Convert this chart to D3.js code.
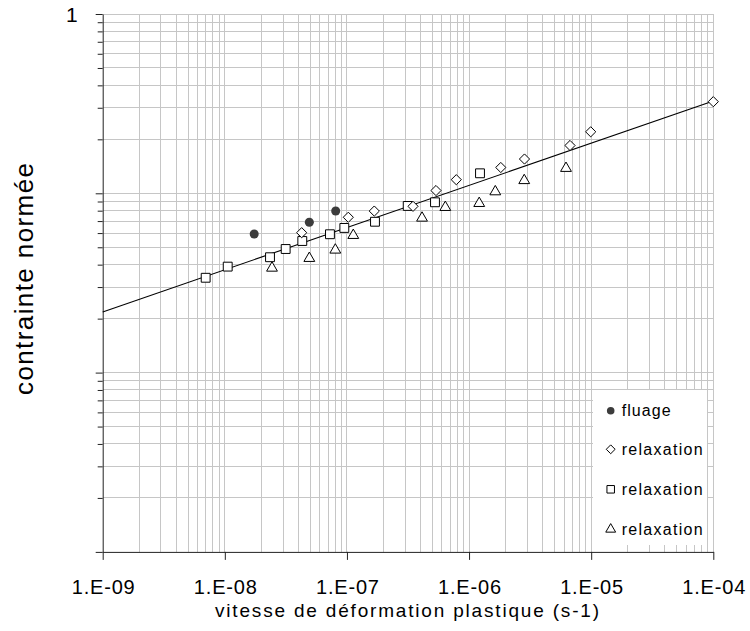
<!DOCTYPE html>
<html><head><meta charset="utf-8">
<script src="https://cdn.jsdelivr.net/npm/d3@7"></script>
<style>body{margin:0;background:#fff}svg{display:block;font-family:"Liberation Sans",Arial,sans-serif}</style>
</head><body><svg id="c" width="750" height="631"></svg>
<script>
// Data (strain rate s-1, normalized stress)
const fluageX = [1.74e-8, 4.92e-8, 8.09e-8];
const fluageY = [0.0593, 0.0689, 0.0796];
const relax1X = [4.26e-8, 1.026e-7, 1.675e-7, 3.475e-7, 5.36e-7, 7.86e-7, 1.819e-6, 2.844e-6, 6.71e-6, 9.91e-6, 1.0e-4];
const relax1Y = [0.0603, 0.0735, 0.0796, 0.0846, 0.1036, 0.1191, 0.1393, 0.1553, 0.1848, 0.2203, 0.3243];
const relax2X = [6.97e-9, 1.056e-8, 2.344e-8, 3.15e-8, 4.31e-8, 7.26e-8, 9.52e-8, 1.697e-7, 3.145e-7, 5.26e-7, 1.229e-6];
const relax2Y = [0.0338, 0.0390, 0.0440, 0.0489, 0.0542, 0.0591, 0.0641, 0.0694, 0.0850, 0.0891, 0.1293];
const relax3X = [2.434e-8, 4.92e-8, 8.03e-8, 1.127e-7, 4.12e-7, 6.39e-7, 1.211e-6, 1.640e-6, 2.83e-6, 6.22e-6];
const relax3Y = [0.0383, 0.0434, 0.0483, 0.0583, 0.0728, 0.0835, 0.0879, 0.1021, 0.1179, 0.1379];
const trendX = [1e-9, 1e-4];
const trendY = [0.0218, 0.327];
const xTicks = [1e-9, 1e-8, 1e-7, 1e-6, 1e-5, 1e-4];
const xTickLabels = ["1.E-09", "1.E-08", "1.E-07", "1.E-06", "1.E-05", "1.E-04"];
const yTickLabels = ["1"];
const legendLabels = ["fluage", "relaxation", "relaxation", "relaxation"];
const xTitle = "vitesse de déformation plastique (s-1)";
const yTitle = "contrainte normée";

const svg = d3.select("#c");
const x = d3.scaleLog().domain([1e-9, 1e-4]).range([102.7, 713.3]);
const y = d3.scaleLog().domain([0.001, 1]).range([551.9, 14]);

// minor values
const xGrid = [], yGrid = [];
for (let e = -9; e < -4; e++) for (let m = 1; m <= 9; m++) xGrid.push(m * Math.pow(10, e));
xGrid.push(1e-4);
for (let e = -3; e < 0; e++) for (let m = 1; m <= 9; m++) yGrid.push(m * Math.pow(10, e));
yGrid.push(1);

const grid = svg.append("g").attr("stroke", "#c6c6c6").attr("stroke-width", 1).attr("shape-rendering", "crispEdges");
grid.selectAll(".vx").data(xGrid.slice(1)).join("line")
  .attr("x1", d => x(d)).attr("x2", d => x(d)).attr("y1", y(1)).attr("y2", y(0.001));
grid.selectAll(".hy").data(yGrid.slice(1)).join("line")
  .attr("y1", d => y(d)).attr("y2", d => y(d)).attr("x1", x(1e-9)).attr("x2", x(1e-4));

// legend background
const lg = svg.append("g");
lg.append("rect").attr("x", 593).attr("y", 390).attr("width", 114).attr("height", 155).attr("fill", "#fff");

// axes
const xAxis = d3.axisBottom(x).tickValues(xTicks).tickFormat((d, i) => xTickLabels[i]).tickSize(8).tickSizeOuter(0);
const gx = svg.append("g").attr("transform", `translate(0,${y(0.001)})`).call(xAxis);
gx.select(".domain").attr("stroke", "#222");
gx.selectAll(".tick line").attr("stroke", "#222");
gx.selectAll(".tick text").attr("font-size", 20).attr("fill", "#000").attr("dy", null).attr("y", 42)
  .attr("textLength", 63).attr("lengthAdjust", "spacing");

const isMajor = d => Math.abs(Math.log10(d) - Math.round(Math.log10(d))) < 1e-6;
const yAxis = d3.axisLeft(y).tickValues(yGrid).tickFormat(d => d === 1 ? yTickLabels[0] : "").tickSizeOuter(0);
const gy = svg.append("g").attr("transform", `translate(${x(1e-9)},0)`).call(yAxis);
gy.select(".domain").attr("stroke", "#222");
gy.selectAll(".tick line").attr("stroke", "#222").attr("x2", d => isMajor(d) ? -7 : -5);
gy.selectAll(".tick text").attr("font-size", 21).attr("fill", "#000").attr("x", -25).attr("dy", "0.35em");

// trend line
const line = d3.line().x(d => x(d[0])).y(d => y(d[1]));
svg.append("path").datum(d3.zip(trendX, trendY)).attr("d", line)
  .attr("fill", "none").attr("stroke", "#000").attr("stroke-width", 1.1);

// markers
const types = {circle: d3.symbolCircle, diamond: d3.symbolDiamond2, square: d3.symbolSquare2, triangle: d3.symbolTriangle2};
const sizes = {circle: 64, diamond: 66, square: 100, triangle: 84};
function plot(xs, ys, s, filled) {
  svg.append("g").selectAll("path").data(d3.zip(xs, ys)).join("path")
    .attr("transform", d => `translate(${x(d[0])},${y(d[1])})`)
    .attr("d", d3.symbol().type(types[s]).size(sizes[s])())
    .attr("fill", filled ? "#3c3c3c" : "#fff")
    .attr("stroke", filled ? "none" : "#000").attr("stroke-width", 1);
}
plot(relax3X, relax3Y, "triangle", false);
plot(relax2X, relax2Y, "square", false);
plot(relax1X, relax1Y, "diamond", false);
plot(fluageX, fluageY, "circle", true);

// legend entries
const legSyms = [["circle", true], ["diamond", false], ["square", false], ["triangle", false]];
const legY = [410.7, 449.3, 489.3, 529.3];
const legSizes = {circle: 45, diamond: 50, square: 72, triangle: 70};
legendLabels.forEach((lab, i) => {
  const [s, f] = legSyms[i];
  lg.append("path").attr("transform", `translate(610.7,${legY[i]})`)
    .attr("d", d3.symbol().type(types[s]).size(legSizes[s])())
    .attr("fill", f ? "#3c3c3c" : "#fff").attr("stroke", f ? "none" : "#000").attr("stroke-width", 1);
  lg.append("text").attr("x", 621.7).attr("y", legY[i]).attr("dy", "0.35em")
    .attr("font-size", 16).attr("fill", "#000")
    .attr("textLength", i === 0 ? 49 : 81).attr("lengthAdjust", "spacing").text(lab);
});

// titles
svg.append("text").attr("x", 407).attr("y", 617).attr("text-anchor", "middle")
  .attr("font-size", 19).attr("fill", "#000").attr("textLength", 384).attr("lengthAdjust", "spacing").text(xTitle);
svg.append("text").attr("transform", "translate(33,279) rotate(-90)").attr("text-anchor", "middle")
  .attr("font-size", 26).attr("fill", "#000").attr("textLength", 232).attr("lengthAdjust", "spacing").text(yTitle);
</script></body></html>
